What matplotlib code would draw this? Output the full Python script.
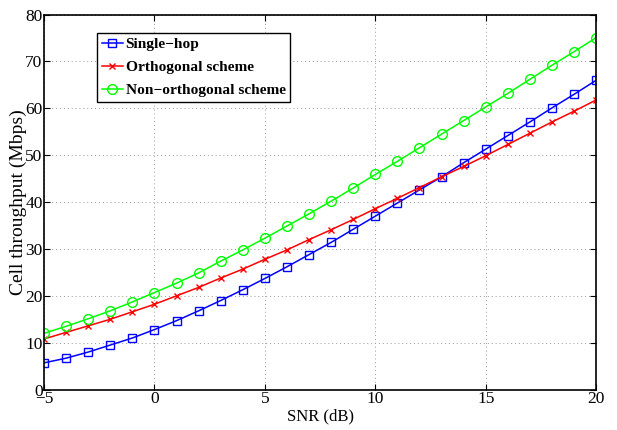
import matplotlib

matplotlib.use("Agg")
import matplotlib.pyplot as plt

# SNR axis (dB)
snr_db = list(range(-5, 21))

single_hop = [5.7, 6.7, 8.0, 9.5, 11.0, 12.8, 14.7, 16.8, 19.0, 21.3, 23.7, 26.2, 28.8,
              31.4, 34.2, 37.0, 39.8, 42.6, 45.4, 48.4, 51.3, 54.2, 57.1, 60.1, 63.0, 66.0]
orthogonal = [10.8, 12.2, 13.6, 15.0, 16.6, 18.2, 20.0, 21.8, 23.8, 25.7, 27.8, 29.8, 32.0,
              34.1, 36.3, 38.6, 40.8, 43.1, 45.4, 47.6, 49.9, 52.3, 54.7, 57.1, 59.4, 61.8]
non_orthogonal = [12.0, 13.5, 15.1, 16.8, 18.7, 20.7, 22.7, 24.9, 27.4, 29.8, 32.3, 34.9, 37.5,
                  40.2, 43.0, 45.9, 48.7, 51.6, 54.5, 57.4, 60.3, 63.2, 66.2, 69.2, 72.1, 75.1]

labels = ["Single\u2212hop", "Orthogonal scheme", "Non\u2212orthogonal scheme"]
x_ticks = [-5, 0, 5, 10, 15, 20]
y_ticks = [0, 10, 20, 30, 40, 50, 60, 70, 80]

plt.rcParams["font.family"] = ["Liberation Serif", "DejaVu Serif"]
plt.rcParams["mathtext.default"] = "regular"

fig = plt.figure(figsize=(6.17, 4.30), dpi=100)
ax = fig.add_axes([0.0713, 0.094, 0.895, 0.872])

ax.plot(snr_db, single_hop, color="#0000ff", lw=1.1, marker="s", ms=5.5,
        mfc="none", mew=1.0, label=labels[0])
ax.plot(snr_db, orthogonal, color="#ff0000", lw=1.1, marker="x", ms=5,
        mew=1.0, label=labels[1])
ax.plot(snr_db, non_orthogonal, color="#00ff00", lw=1.1, marker="o", ms=7,
        mfc="none", mew=1.0, label=labels[2])

ax.set_xlim(-5, 20)
ax.set_ylim(0, 80)
ax.set_xticks(x_ticks)
ax.set_yticks(y_ticks)
ax.set_xticklabels([str(t).replace("-", "\u2212") for t in x_ticks])
ax.tick_params(direction="in", length=4, width=0.8, labelsize=12.5, pad=1,
               top=True, right=True)
ax.grid(True, linestyle=(0, (1, 3)), color="#999999", lw=0.7)
for sp in ax.spines.values():
    sp.set_linewidth(1.2)

ax.set_xlabel("SNR (dB)", fontsize=12, labelpad=1)
ax.set_ylabel("Cell throughput (Mbps)", fontsize=14, labelpad=-1)

leg = ax.legend(loc="upper left", bbox_to_anchor=(0.096, 0.951),
                prop={"weight": "bold", "size": 11.1}, handlelength=1.4,
                handletextpad=0.15, borderpad=0.3, labelspacing=0.6,
                fancybox=False, framealpha=1, edgecolor="black", borderaxespad=0)
leg.get_frame().set_linewidth(1.0)

fig.savefig("out.png", dpi=100)
